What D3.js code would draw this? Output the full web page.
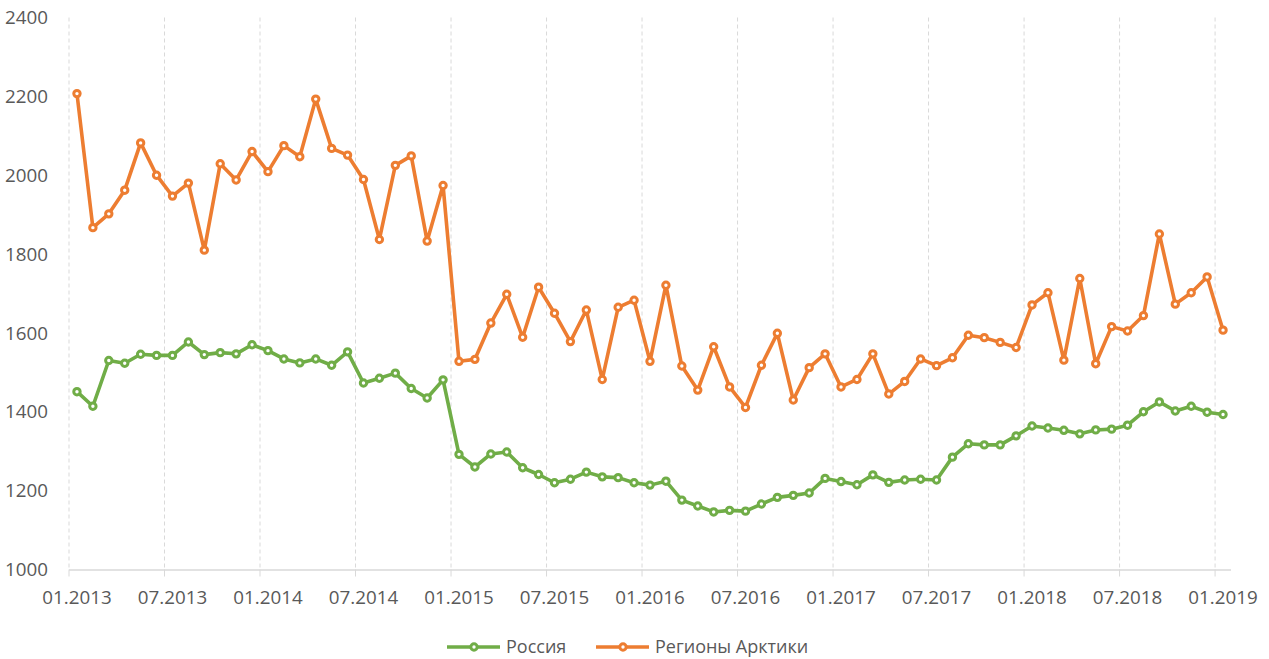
<!DOCTYPE html>
<html>
<head>
<meta charset="utf-8">
<script src="https://cdn.jsdelivr.net/npm/d3@7"></script>
<style>
  body { margin: 0; background: #fff; }
  svg { display: block; font-family: "Open Sans", sans-serif; }
</style>
</head>
<body>
<div id="chart"></div>
<script>
// monthly values, 01.2013 .. 01.2019
var russia = [1451, 1414, 1530, 1523, 1546, 1543, 1543, 1577, 1545, 1550, 1547, 1570,
              1555, 1534, 1524, 1534, 1518, 1552, 1473, 1485, 1498, 1459, 1435, 1481,
              1292, 1260, 1293, 1298, 1258, 1241, 1220, 1229, 1247, 1235, 1233, 1220,
              1214, 1224, 1176, 1161, 1146, 1150, 1148, 1166, 1183, 1188, 1194, 1231,
              1223, 1215, 1240, 1221, 1227, 1229, 1227, 1285, 1319, 1316, 1316, 1339,
              1364, 1359, 1353, 1344, 1354, 1356, 1366, 1400, 1425, 1402, 1414, 1399,
              1393];
var arctic = [2207, 1867, 1902, 1962, 2082, 2000, 1947, 1980, 1810, 2029, 1988, 2060,
              2009, 2075, 2047, 2193, 2068, 2051, 1989, 1837, 2025, 2049, 1833, 1974,
              1528, 1533, 1625, 1698, 1589, 1716, 1650, 1578, 1658, 1482, 1665, 1683,
              1528, 1721, 1516, 1455, 1565, 1463, 1411, 1518, 1599, 1430, 1512, 1547,
              1463, 1482, 1547, 1445, 1477, 1534, 1517, 1537, 1594, 1588, 1576, 1563,
              1671, 1702, 1531, 1738, 1522, 1616, 1605, 1644, 1851, 1673, 1702, 1742,
              1607];
var tickLabels = ["01.2013", "07.2013", "01.2014", "07.2014", "01.2015", "07.2015", "01.2016",
                  "07.2016", "01.2017", "07.2017", "01.2018", "07.2018", "01.2019"];
var yTicks = [1000, 1200, 1400, 1600, 1800, 2000, 2200, 2400];
var seriesNames = ["Россия", "Регионы Арктики"];
var colors = ["#70AD47", "#ED7D31"];

var width = 1269, height = 659;
var plotLeft = 69, plotRight = 1231, plotTop = 17.5, plotBottom = 569.5;
var textColor = "#595959", gridColor = "#D9D9D9";
var fontSize = "18.8px";

var svg = d3.select("#chart")
            .append("svg")
            .attr("width", width)
            .attr("height", height);

// one band per month, points sit in the middle of the band
var xScale = d3.scaleBand()
               .domain(d3.range(russia.length))
               .range([plotLeft, plotRight])
               .padding(0);
var half = xScale.bandwidth() / 2;

var yScale = d3.scaleLinear()
               .domain([1000, 2400])
               .range([plotBottom, plotTop]);

// vertical dashed gridlines every 6 months
var tickIdx = tickLabels.map(function(d, i) { return i * 6; });

svg.append("g")
   .selectAll("line")
   .data(tickIdx)
   .enter()
   .append("line")
   .attr("x1", function(d) { return xScale(d); })
   .attr("x2", function(d) { return xScale(d); })
   .attr("y1", plotTop)
   .attr("y2", plotBottom)
   .attr("stroke", gridColor)
   .attr("stroke-width", 1)
   .attr("stroke-dasharray", "4,3");

// x axis line + ticks
svg.append("line")
   .attr("x1", plotLeft)
   .attr("x2", plotRight)
   .attr("y1", plotBottom + 0.5)
   .attr("y2", plotBottom + 0.5)
   .attr("stroke", gridColor)
   .attr("stroke-width", 1.5);

svg.append("g")
   .selectAll("line")
   .data(tickIdx)
   .enter()
   .append("line")
   .attr("x1", function(d) { return xScale(d); })
   .attr("x2", function(d) { return xScale(d); })
   .attr("y1", plotBottom)
   .attr("y2", plotBottom + 7)
   .attr("stroke", gridColor)
   .attr("stroke-width", 1);

// x labels
svg.append("g")
   .selectAll("text")
   .data(tickLabels)
   .enter()
   .append("text")
   .attr("x", function(d, i) { return xScale(tickIdx[i]) + half; })
   .attr("y", 604)
   .attr("text-anchor", "middle")
   .style("font-size", fontSize)
   .style("fill", textColor)
   .text(function(d) { return d; });

// y labels
svg.append("g")
   .selectAll("text")
   .data(yTicks)
   .enter()
   .append("text")
   .attr("x", 48)
   .attr("y", function(d) { return yScale(d); })
   .attr("dy", "0.35em")
   .attr("text-anchor", "end")
   .style("font-size", fontSize)
   .style("fill", textColor)
   .text(function(d) { return d; });

// lines and markers
var line = d3.line()
             .x(function(d, i) { return xScale(i) + half; })
             .y(function(d) { return yScale(d); });

[russia, arctic].forEach(function(series, k) {
  var g = svg.append("g");
  g.append("path")
   .datum(series)
   .attr("d", line)
   .attr("fill", "none")
   .attr("stroke", colors[k])
   .attr("stroke-width", 3.6)
   .attr("stroke-linejoin", "round");

  g.selectAll("circle")
   .data(series)
   .enter()
   .append("circle")
   .attr("cx", function(d, i) { return xScale(i) + half; })
   .attr("cy", function(d) { return yScale(d); })
   .attr("r", 3.2)
   .attr("fill", "#fff")
   .attr("stroke", colors[k])
   .attr("stroke-width", 3);
});

// legend
var legendItems = [{x: 447, tx: 506}, {x: 596, tx: 655}];
var ly = 647;
legendItems.forEach(function(d, k) {
  svg.append("line")
     .attr("x1", d.x)
     .attr("x2", d.x + 53)
     .attr("y1", ly)
     .attr("y2", ly)
     .attr("stroke", colors[k])
     .attr("stroke-width", 3.6);
  svg.append("circle")
     .attr("cx", d.x + 27)
     .attr("cy", ly)
     .attr("r", 3.2)
     .attr("fill", "#fff")
     .attr("stroke", colors[k])
     .attr("stroke-width", 3);
  svg.append("text")
     .attr("x", d.tx)
     .attr("y", ly)
     .attr("dy", "0.35em")
     .style("font-size", "18px")
     .style("fill", textColor)
     .text(seriesNames[k]);
});
</script>
</body>
</html>
